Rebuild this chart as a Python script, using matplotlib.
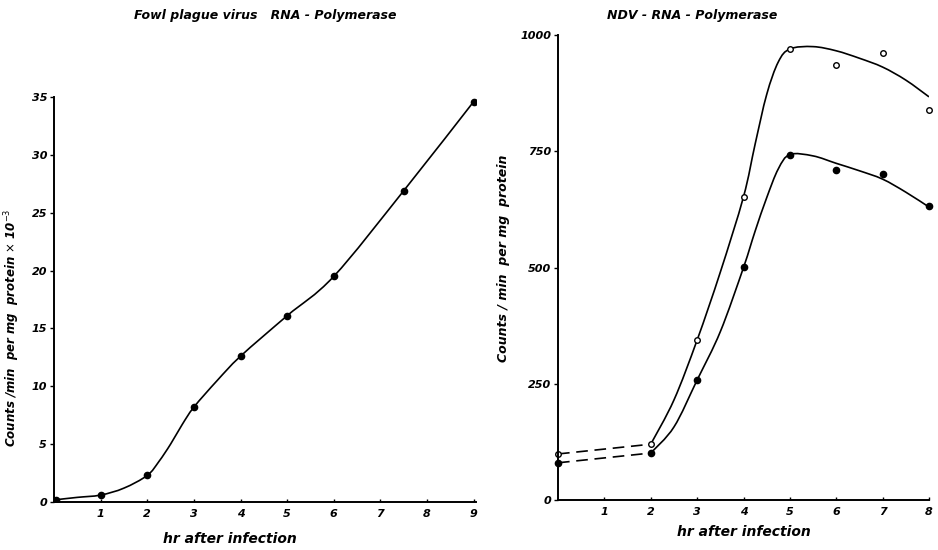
import numpy as np
import matplotlib
matplotlib.use("Agg")
import matplotlib.pyplot as plt
from matplotlib.path import Path
from matplotlib.patches import PathPatch

# Fowl plague virus RNA polymerase (counts/min per mg protein x 10^-3)
fpv_hr = [0.05, 1, 2, 3, 4, 5, 6, 7.5, 9]
fpv_counts = [0.2, 0.6, 2.3, 8.2, 12.6, 16.1, 19.5, 26.9, 34.6]
# hand-drawn curve
fpv_curve_hr = [0.05, 0.5, 1, 1.5, 2, 2.25, 2.5, 2.75, 3, 3.5, 4, 5, 6, 7.5, 9]
fpv_curve = [0.2, 0.4, 0.6, 1.2, 2.3, 3.5, 5.0, 6.7, 8.2, 10.5, 12.6, 16.1, 19.5, 26.9, 34.6]

# NDV RNA polymerase (counts/min per mg protein)
ndv_hr = [0, 2, 3, 4, 5, 6, 7, 8]
ndv_open = [99, 120, 344, 652, 970, 935, 961, 839]
ndv_filled = [80, 101, 258, 501, 742, 710, 701, 632]
# hand-drawn fitted curves
ndv_curve_hr = [2, 2.5, 3, 3.5, 4, 4.25, 4.5, 4.75, 5, 5.5, 6, 6.5, 7, 7.5, 8]
ndv_open_curve = [120, 215, 344, 490, 652, 765, 872, 942, 970, 975, 966, 950, 931, 903, 867]
ndv_filled_curve = [101, 157, 258, 362, 500, 578, 650, 712, 743, 740, 724, 708, 690, 662, 630]

plt.rcParams['font.family'] = 'DejaVu Sans'
fnt = dict(style='italic', weight='bold')


# draw a smooth line through the given points (Catmull-Rom as bezier segments)
def smooth_line(ax, xs, ys, **kw):
    p = np.column_stack([xs, ys]).astype(float)
    p = np.vstack([p[0], p, p[-1]])
    verts = [p[1]]
    codes = [Path.MOVETO]
    for i in range(1, len(p) - 2):
        c1 = p[i] + (p[i + 1] - p[i - 1]) / 6
        c2 = p[i + 1] - (p[i + 2] - p[i]) / 6
        verts += [c1, c2, p[i + 1]]
        codes += [Path.CURVE4] * 3
    ax.add_patch(PathPatch(Path(verts, codes), fill=False, **kw))


fig = plt.figure(figsize=(9.38, 5.5), dpi=100)

# ---- left panel
ax1 = fig.add_axes([54/938, 48/550, 422/938, 405/550])
smooth_line(ax1, fpv_curve_hr, fpv_curve, color='black', lw=1.2)
ax1.plot(fpv_hr, fpv_counts, 'o', color='black', ms=4.5)
ax1.set_xlim(0, 9.05)
ax1.set_ylim(0, 35)
ax1.set_xticks(range(1, 10))
ax1.set_yticks(range(0, 36, 5))
ax1.set_xlabel('hr after infection', fontsize=10, **fnt)
ax1.xaxis.set_label_coords(0.417, -0.075)
ax1.set_ylabel(r'Counts /min  per mg  protein $\times$ 10$^{-3}$', fontsize=8.5, **fnt)
ax1.yaxis.set_label_coords(-0.075, 0.43)
fig.text(265/938, 1 - 16/550, 'Fowl plague virus   RNA - Polymerase', ha='center', va='center',
         fontsize=9, **fnt)

# ---- right panel
ax2 = fig.add_axes([558/938, 50/550, 371/938, 465/550])
ax2.plot(ndv_hr[:2], ndv_open[:2], color='black', lw=1.2, ls=(0, (7, 4)))
ax2.plot(ndv_hr[:2], ndv_filled[:2], color='black', lw=1.2, ls=(0, (7, 4)))
smooth_line(ax2, ndv_curve_hr, ndv_open_curve, color='black', lw=1.2)
smooth_line(ax2, ndv_curve_hr, ndv_filled_curve, color='black', lw=1.2)
ax2.plot(ndv_hr, ndv_open, 'o', mfc='white', mec='black', mew=1.0, ms=4, clip_on=False)
ax2.plot(ndv_hr, ndv_filled, 'o', color='black', ms=4.5, clip_on=False)
ax2.set_xlim(0, 8)
ax2.set_ylim(0, 1000)
ax2.set_xticks(range(1, 9))
ax2.set_yticks([0, 250, 500, 750, 1000])
ax2.set_xlabel('hr after infection', fontsize=10, labelpad=6, **fnt)
ax2.set_ylabel('Counts / min  per mg  protein', fontsize=9, **fnt)
ax2.yaxis.set_label_coords(-0.13, 0.52)
fig.text(692/938, 1 - 15/550, 'NDV - RNA - Polymerase', ha='center', va='center',
         fontsize=9, **fnt)

for ax in (ax1, ax2):
    for s in ('top', 'right'):
        ax.spines[s].set_visible(False)
    ax.spines['left'].set_linewidth(1.4)
    ax.spines['bottom'].set_linewidth(1.4)
    ax.tick_params(axis='y', direction='out', length=3, width=1, labelsize=8, pad=2)
    ax.tick_params(axis='x', direction='in', length=2, width=1, labelsize=8, pad=5)
    for lab in ax.get_xticklabels() + ax.get_yticklabels():
        lab.set_style('italic')
        lab.set_weight('bold')

fig.savefig('out.png', dpi=100)
